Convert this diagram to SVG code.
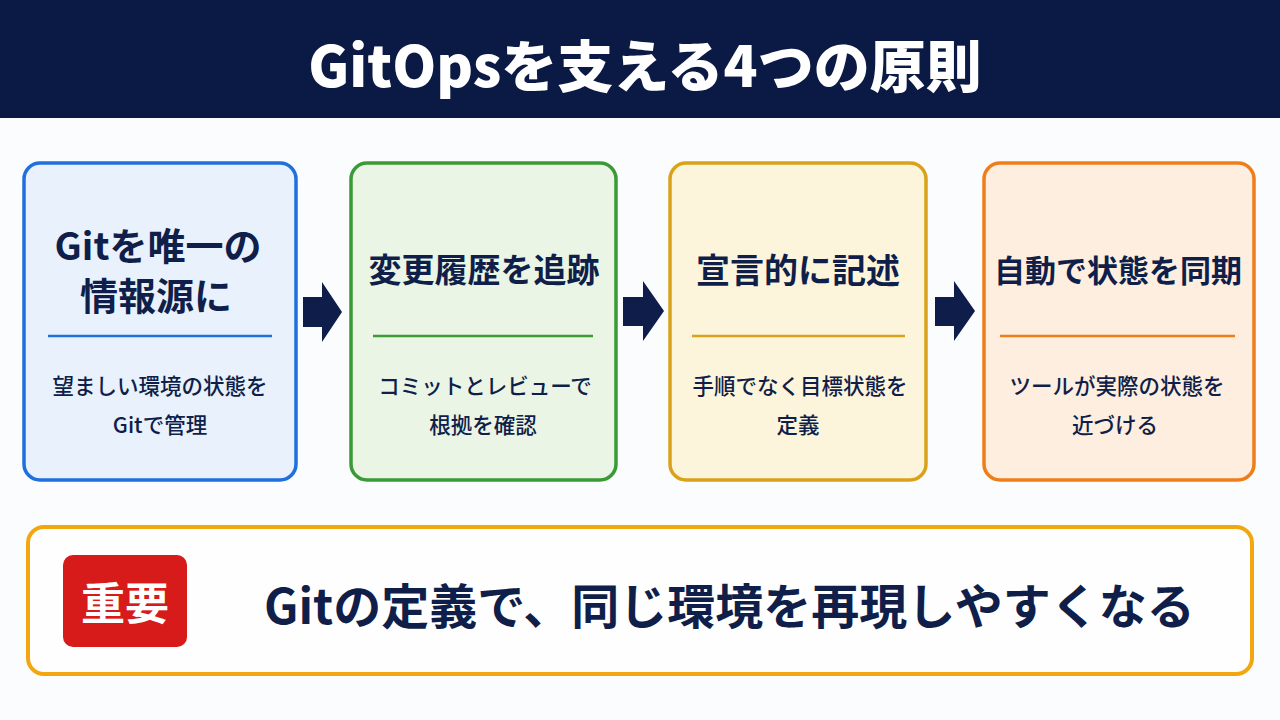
<svg xmlns="http://www.w3.org/2000/svg" width="1280" height="720" viewBox="0 0 1280 720">
<defs>
<style>
text{font-family:"Noto Sans CJK JP","Noto Sans",sans-serif;text-anchor:middle;dominant-baseline:central;fill:#0f1f4a}
.ttl{font-weight:700}
.sub{font-size:21.5px;font-weight:500}
.box{stroke-width:3.5}
.div{stroke-width:2.5}
.arr{fill:#0e1d4a}
</style>
</defs>
<rect x="0" y="0" width="1280" height="720" fill="#fbfcfe"/>
<g id="header">
<rect x="0" y="0" width="1280" height="118" fill="#0b1a45"/>
<text x="645" y="62" class="ttl" style="font-size:56px;fill:#ffffff;font-weight:900">GitOpsを支える4つの原則</text>
</g>
<g id="node1">
<rect class="box" x="24" y="163" width="272" height="317" rx="16" fill="#e8f1fc" stroke="#1f6fdc"/>
<text x="158" y="243" class="ttl" style="font-size:38px">Gitを唯一の</text>
<text x="156" y="293" class="ttl" style="font-size:38px">情報源に</text>
<line class="div" x1="48" y1="336" x2="272" y2="336" stroke="#1f6fdc"/>
<text x="160" y="384" class="sub">望ましい環境の状態を</text>
<text x="160" y="423" class="sub">Gitで管理</text>
</g>
<g id="node2">
<rect class="box" x="351" y="163" width="265" height="317" rx="16" fill="#eaf5e5" stroke="#3a9a35"/>
<text x="484" y="268" class="ttl" style="font-size:33px">変更履歴を追跡</text>
<line class="div" x1="373" y1="336" x2="593" y2="336" stroke="#3a9a35"/>
<text x="485" y="384" class="sub">コミットとレビューで</text>
<text x="483" y="423" class="sub">根拠を確認</text>
</g>
<g id="node3">
<rect class="box" x="670" y="163" width="256" height="317" rx="16" fill="#fdf4dc" stroke="#d9a21a"/>
<text x="798" y="268" class="ttl" style="font-size:34px">宣言的に記述</text>
<line class="div" x1="692" y1="336" x2="905" y2="336" stroke="#d9a21a"/>
<text x="800" y="384" class="sub">手順でなく目標状態を</text>
<text x="798" y="423" class="sub">定義</text>
</g>
<g id="node4">
<rect class="box" x="984" y="163" width="270" height="317" rx="16" fill="#fdeee0" stroke="#ee7d1a"/>
<text x="1118" y="268" class="ttl" style="font-size:31px">自動で状態を同期</text>
<line class="div" x1="1000" y1="336" x2="1235" y2="336" stroke="#ee7d1a"/>
<text x="1117" y="384" class="sub">ツールが実際の状態を</text>
<text x="1115" y="423" class="sub">近づける</text>
</g>
<g id="connectors">
<polygon class="arr" points="303,297 322,297 322,282 342,312 322,342 322,327 303,327"/>
<polygon class="arr" points="623,297 643,297 643,281 664,311 643,341 643,326 623,326"/>
<polygon class="arr" points="935,297 954,297 954,281 975,311 954,341 954,326 935,326"/>
</g>
<g id="note">
<rect x="28" y="527" width="1224" height="147" rx="16" fill="#fefefe" stroke="#f2a60f" stroke-width="4"/>
<rect x="63" y="555" width="124" height="92" rx="10" fill="#d71a1a"/>
<text x="125" y="601" class="ttl" style="font-size:44px;fill:#ffffff">重要</text>
<text x="264" y="603" class="ttl" style="font-size:48px;text-anchor:start">Gitの定義で、同じ環境を再現しやすくなる</text>
</g>
</svg>
